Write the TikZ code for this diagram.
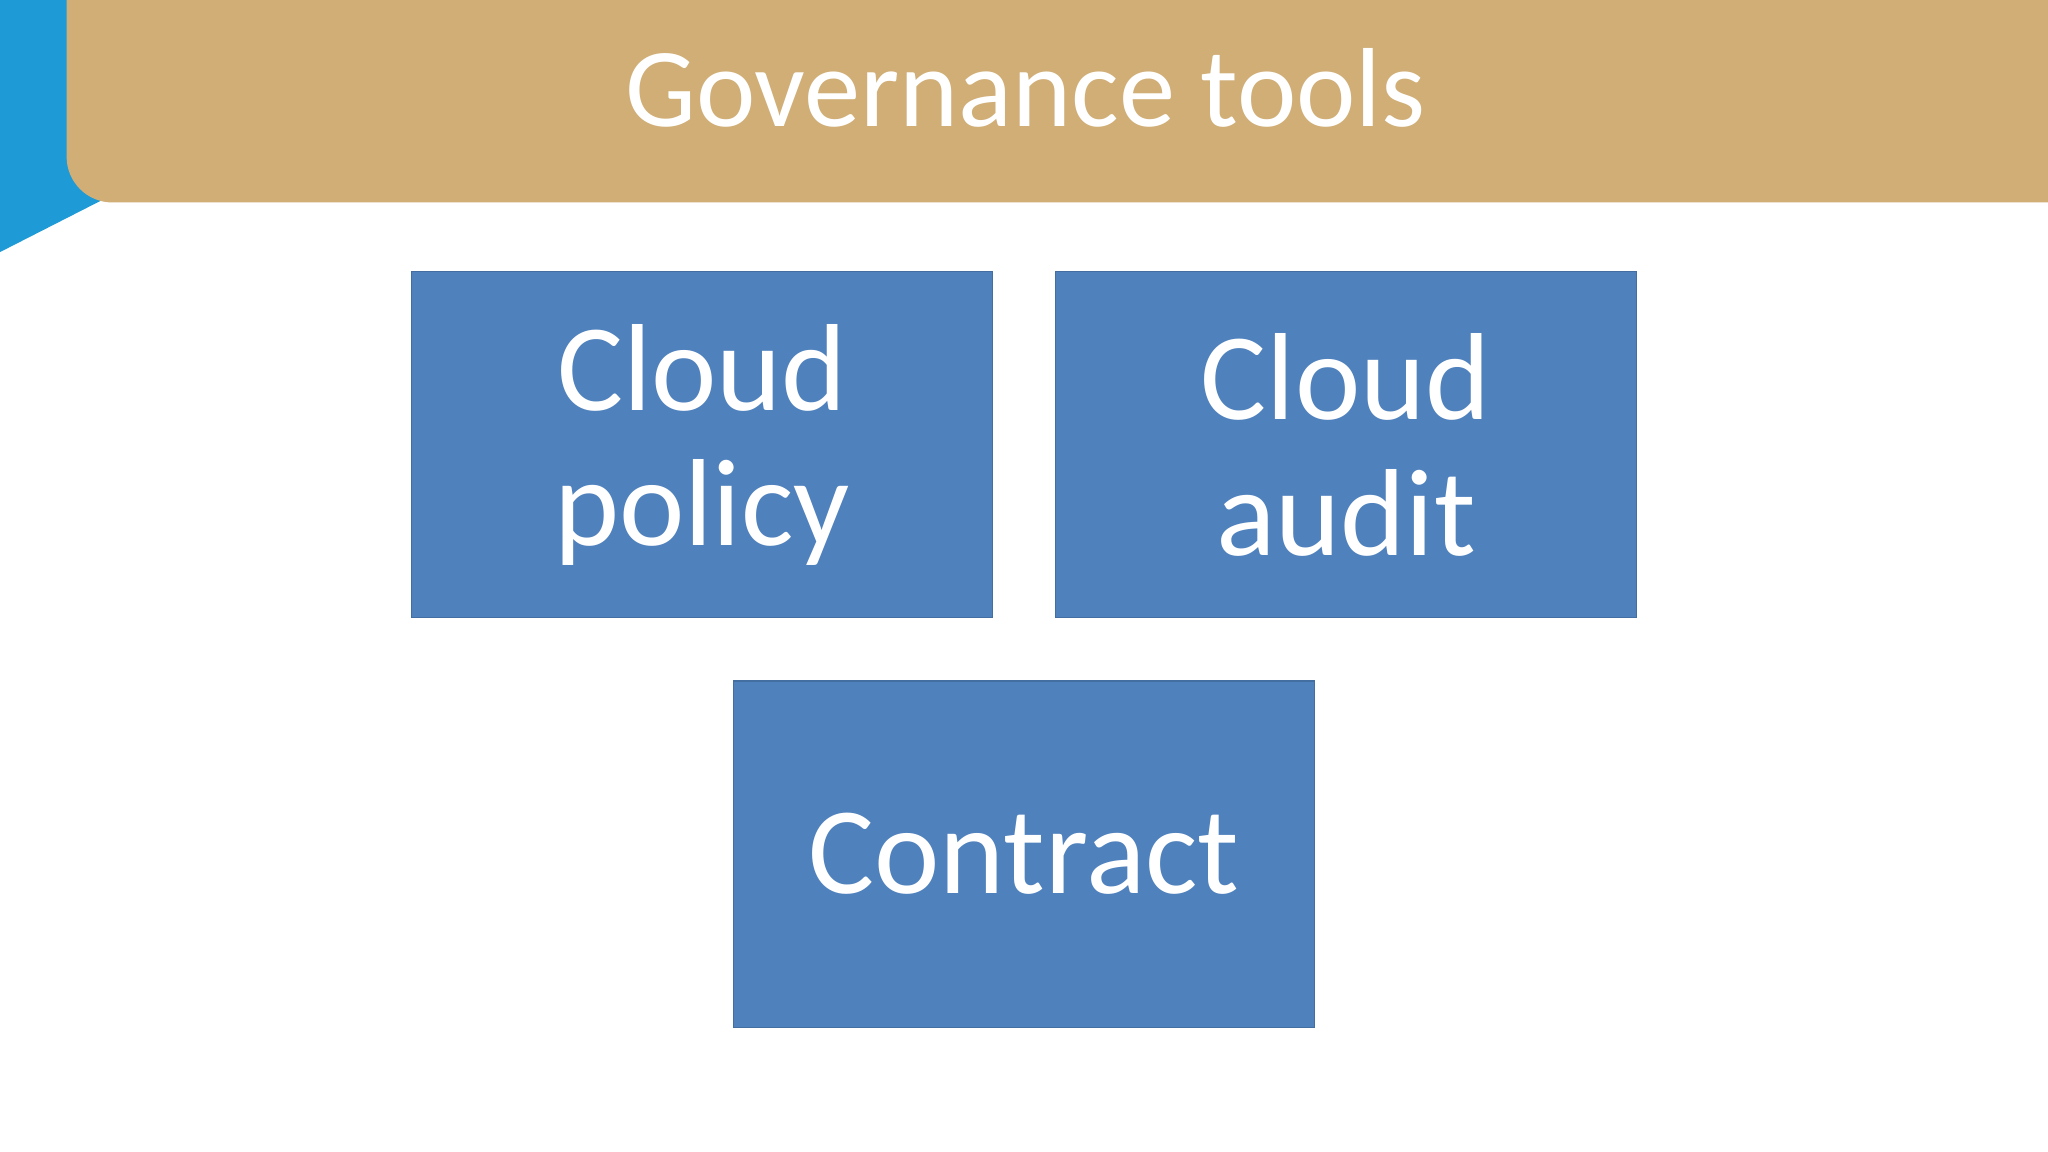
\documentclass[tikz,border=0pt]{standalone}
\usepackage{fontspec}
\setmainfont{Carlito}
\definecolor{bannerblue}{HTML}{1E9AD6}
\definecolor{bannertan}{HTML}{D0AE76}
\definecolor{boxblue}{HTML}{4F81BD}
\begin{document}
\begin{tikzpicture}[x=0.02cm,y=-0.02cm,
  tool/.style={fill=boxblue,draw=boxblue!85!black,line width=0.6pt,minimum width=445*0.02cm,minimum height=265*0.02cm,
    text=white,font=\fontsize{54}{59}\selectfont,align=center,inner sep=0pt}]
\useasboundingbox (0,0) rectangle (1568,882);
\fill[white] (0,0) rectangle (1568,882);
\fill[bannerblue] (0,0) -- (197,0) -- (197,153) arc[start angle=0,end angle=90,x radius=40,y radius=-40] -- (0,193) -- cycle;
\fill[bannertan] (51,0) -- (1568,0) -- (1568,155) -- (86,155) arc[start angle=270,end angle=180,x radius=35,y radius=-35] -- cycle;
\node[text=white,font=\fontsize{49}{55}\selectfont] (title) at (785,67) {Governance tools};
\node[tool] (policy) at (537.5,340.5) {Cloud\\policy};
\node[tool] (audit) at (1030.5,340.5) {Cloud\\audit};
\node[tool] (contract) at (784,654) {Contract};
\end{tikzpicture}
\end{document}
